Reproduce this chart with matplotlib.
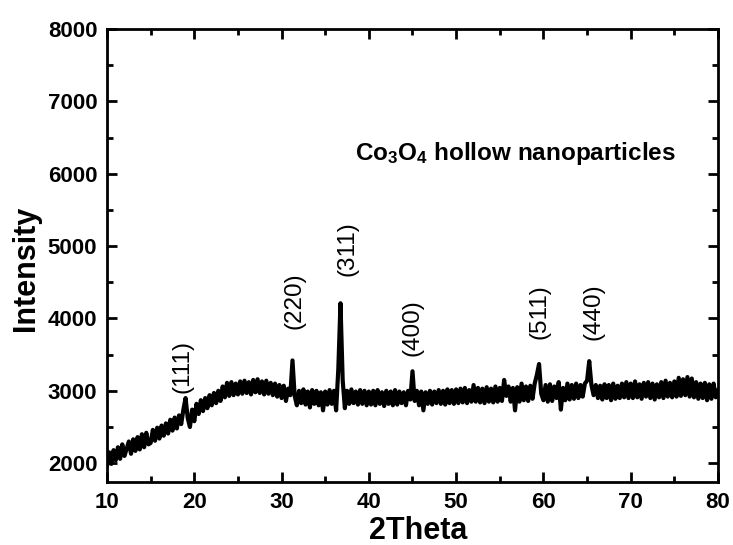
import numpy as np
import matplotlib
matplotlib.use("Agg")
import matplotlib.pyplot as plt
from matplotlib.ticker import MultipleLocator

# -------------------------
# Data (0.25 deg step)
# -------------------------
start_2theta = 10.0
step_2theta = 0.25

intensity = [
    1960, 2150, 1990, 2180, 2040, 2220, 2060, 2260, 2100, 2200, 2300, 2130, 2330, 2170, 2360, 2190, 2400, 2220, 2420, 2260,
    2280, 2460, 2310, 2490, 2340, 2520, 2380, 2550, 2410, 2600, 2450, 2630, 2480, 2660, 2540, 2740, 2900, 2620, 2500, 2740,
    2580, 2820, 2680, 2870, 2720, 2900, 2760, 2940, 2800, 2970, 2830, 3000, 2860, 3060, 2910, 3110, 2930, 3120, 2940, 3100,
    2950, 3130, 2960, 3140, 2970, 3120, 2950, 3150, 2980, 3160, 2970, 3130, 2950, 3140, 2960, 3110, 2940, 3100, 2920, 3080,
    2900, 3070, 2860, 3030, 2940, 3420, 2930, 2800, 3000, 2830, 3020, 2810, 2990, 2770, 3010, 2820, 3000, 2800, 2980, 2730,
    2990, 2810, 3010, 2820, 3000, 2730, 3300, 4210, 3150, 2760, 3000, 2820, 3020, 2830, 2990, 2810, 3010, 2820, 3000, 2800,
    2990, 2810, 3000, 2800, 3010, 2820, 2980, 2790, 3000, 2820, 2990, 2800, 3010, 2810, 2990, 2830, 2980, 2800, 3000, 2880,
    3270, 2860, 3000, 2800, 2990, 2730, 2980, 2820, 3000, 2810, 2990, 2830, 3010, 2820, 3000, 2810, 3020, 2830, 3010, 2820,
    3020, 2830, 3030, 2840, 3040, 2830, 3010, 2850, 3080, 2850, 3040, 2840, 3030, 2830, 3050, 2850, 3030, 2840, 3060, 2850,
    3040, 2860, 3150, 2930, 3060, 2850, 3040, 2730, 3050, 2850, 3100, 2870, 3060, 2860, 3070, 2890, 3100, 3220, 3370, 2960,
    2870, 3080, 2850, 3090, 2860, 3060, 2900, 3120, 2740, 3040, 2870, 3100, 2880, 3080, 2890, 3100, 2900, 3080, 2920, 3100,
    3140, 3410, 3080, 2940, 3080, 2900, 3070, 2880, 3090, 2900, 3080, 2870, 3100, 2890, 3070, 2900, 3100, 2910, 3120, 2900,
    3100, 2900, 3130, 2910, 3090, 2890, 3110, 2920, 3120, 2900, 3100, 2880, 3090, 2910, 3120, 2900, 3140, 2920, 3110, 2910,
    3130, 2920, 3180, 2930, 3160, 2940, 3190, 2920, 3170, 2910, 3120, 2890, 3100, 2900, 3110, 2870, 3090, 2890, 3100, 2910,
    3000,
]
two_theta = start_2theta + step_2theta * np.arange(len(intensity))

# peak labels: (hkl), label x, label y
peak_labels = ["(111)", "(220)", "(311)", "(400)", "(511)", "(440)"]
label_x = [18.6, 31.5, 37.5, 45.05, 59.6, 65.7]
label_y = [3340, 4250, 4970, 3880, 4090, 4100]

# -------------------------
# Plotting
# -------------------------
plt.rcParams["font.family"] = ["Liberation Sans", "DejaVu Sans"]
plt.rcParams["mathtext.fontset"] = "custom"
plt.rcParams["mathtext.rm"] = "Liberation Sans:bold"
plt.rcParams["mathtext.default"] = "rm"

fig = plt.figure(figsize=(7.33, 5.45), dpi=100)
ax = fig.add_axes([0.146, 0.1156, 0.8335, 0.8312])

ax.plot(two_theta, intensity, color="black", linewidth=3.0)

ax.set_xlim(10, 80)
ax.set_ylim(1740, 8000)
ax.xaxis.set_major_locator(MultipleLocator(10))
ax.xaxis.set_minor_locator(MultipleLocator(5))
ax.yaxis.set_major_locator(MultipleLocator(1000))
ax.yaxis.set_minor_locator(MultipleLocator(500))

ax.tick_params(which="both", direction="in", top=True, right=True, width=2)
ax.tick_params(which="major", length=7, labelsize=16, pad=7)
ax.tick_params(which="minor", length=4)
for lab in ax.get_xticklabels() + ax.get_yticklabels():
    lab.set_fontweight("bold")
for sp in ax.spines.values():
    sp.set_linewidth(2)

ax.set_xlabel("2Theta", fontsize=22, fontweight="bold")
ax.set_ylabel("Intensity", fontsize=22, fontweight="bold")
ax.xaxis.set_label_coords(0.509, -0.074)
ax.yaxis.set_label_coords(-0.108, 0.472)

for lab, lx, ly in zip(peak_labels, label_x, label_y):
    ax.text(lx, ly, lab, rotation=90, ha="center", va="center", fontsize=17.5)

ax.text(38.4, 6187, r"Co$_3$O$_4$ hollow nanoparticles", fontsize=17.5,
        fontweight="bold", ha="left", va="baseline")

plt.savefig("out.png", dpi=100)
